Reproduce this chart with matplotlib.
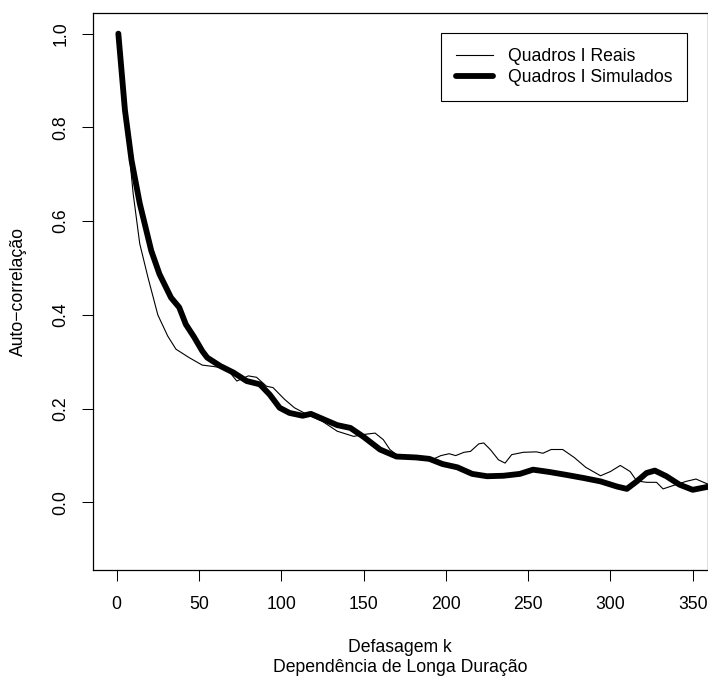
import matplotlib
matplotlib.use("Agg")
import matplotlib.pyplot as plt

plt.rcParams['font.family'] = ['Liberation Sans', 'DejaVu Sans']

lag_real = [1, 4, 7, 10, 14, 19, 25, 31, 36, 44, 52, 59, 67, 73, 80, 85, 91, 95,
            102, 108, 115, 125, 134, 144, 150, 157, 162, 166, 170, 182, 192, 197,
            202, 206, 211, 215, 220, 223, 227, 232, 236, 240, 247, 255, 259, 264,
            271, 278, 285, 294, 300, 306, 312, 316, 322, 328, 332, 338, 346, 352, 360]
acf_real = [1.0, 0.85, 0.766, 0.659, 0.552, 0.48, 0.40, 0.355, 0.327, 0.309, 0.293,
            0.29, 0.285, 0.259, 0.27, 0.267, 0.248, 0.245, 0.22, 0.202, 0.189, 0.173,
            0.152, 0.141, 0.145, 0.148, 0.134, 0.113, 0.102, 0.096, 0.092, 0.100,
            0.104, 0.100, 0.107, 0.109, 0.125, 0.127, 0.113, 0.091, 0.084, 0.102,
            0.107, 0.108, 0.105, 0.113, 0.113, 0.096, 0.075, 0.057, 0.066, 0.079,
            0.066, 0.046, 0.043, 0.043, 0.029, 0.036, 0.045, 0.050, 0.038]

# simulated frames (thick line)
lag_sim = [1, 5, 9, 14, 21, 26, 33, 38, 42, 47, 52, 55, 63, 71, 79, 87, 93, 99, 105,
           113, 118, 126, 134, 142, 150, 160, 170, 182, 190, 198, 207, 216, 225, 235,
           245, 253, 263, 273, 284, 294, 304, 310, 316, 322, 327, 334, 342, 350, 360]
acf_sim = [1.0, 0.837, 0.73, 0.638, 0.537, 0.487, 0.437, 0.416, 0.38, 0.353, 0.323,
           0.309, 0.291, 0.277, 0.259, 0.252, 0.230, 0.202, 0.191, 0.185, 0.189,
           0.177, 0.165, 0.159, 0.140, 0.113, 0.098, 0.096, 0.093, 0.082, 0.075,
           0.061, 0.056, 0.057, 0.061, 0.070, 0.065, 0.059, 0.052, 0.045, 0.034,
           0.029, 0.045, 0.063, 0.068, 0.056, 0.038, 0.027, 0.034]

xticks = [0, 50, 100, 150, 200, 250, 300, 350]
yticks = [0.0, 0.2, 0.4, 0.6, 0.8, 1.0]

W, H = 708, 680
fs = 12.7
fig = plt.figure(figsize=(W / 100, H / 100), dpi=100)
ax = fig.add_axes([93 / W, 1 - 570 / H, (708 - 93) / W, (570 - 13) / H])

ax.plot(lag_real, acf_real, color='black', lw=0.8, label='Quadros I Reais')
ax.plot(lag_sim, acf_sim, color='black', lw=4.2, solid_capstyle='round',
        solid_joinstyle='round', label='Quadros I Simulados')

ax.set_xlim(-14.4, 359.3)
ax.set_ylim(-0.144, 1.044)
ax.set_xticks(xticks)
ax.set_xticklabels([str(t) for t in xticks])
ax.set_yticks(yticks)
ax.set_yticklabels([f"{t:.1f}" for t in yticks])
ax.tick_params(direction='out', length=8, width=0.75, labelsize=fs, color='black')
ax.tick_params(axis='x', pad=10.5)
ax.tick_params(axis='y', pad=9)
plt.setp(ax.get_yticklabels(), rotation=90, va='center')
for s in ax.spines.values():
    s.set_linewidth(0.9)

leg = ax.legend(loc='upper right', bbox_to_anchor=(687 / W, 1 - 33 / H),
                bbox_transform=fig.transFigure, fontsize=fs, frameon=True,
                fancybox=False, edgecolor='black', framealpha=1,
                handlelength=2.1, handletextpad=0.8, borderpad=0.85,
                labelspacing=0.25, borderaxespad=0)
leg.get_frame().set_linewidth(0.8)

fig.text(400 / W, 1 - 648 / H, 'Defasagem k', ha='center', va='center', fontsize=fs)
fig.text(400 / W, 1 - 668 / H, 'Dependência de Longa Duração', ha='center',
         va='center', fontsize=fs)
fig.text(18 / W, 1 - 292 / H, 'Auto\u2212correlação', ha='center', va='center',
         rotation=90, fontsize=fs)

fig.savefig('out.png', dpi=100)
